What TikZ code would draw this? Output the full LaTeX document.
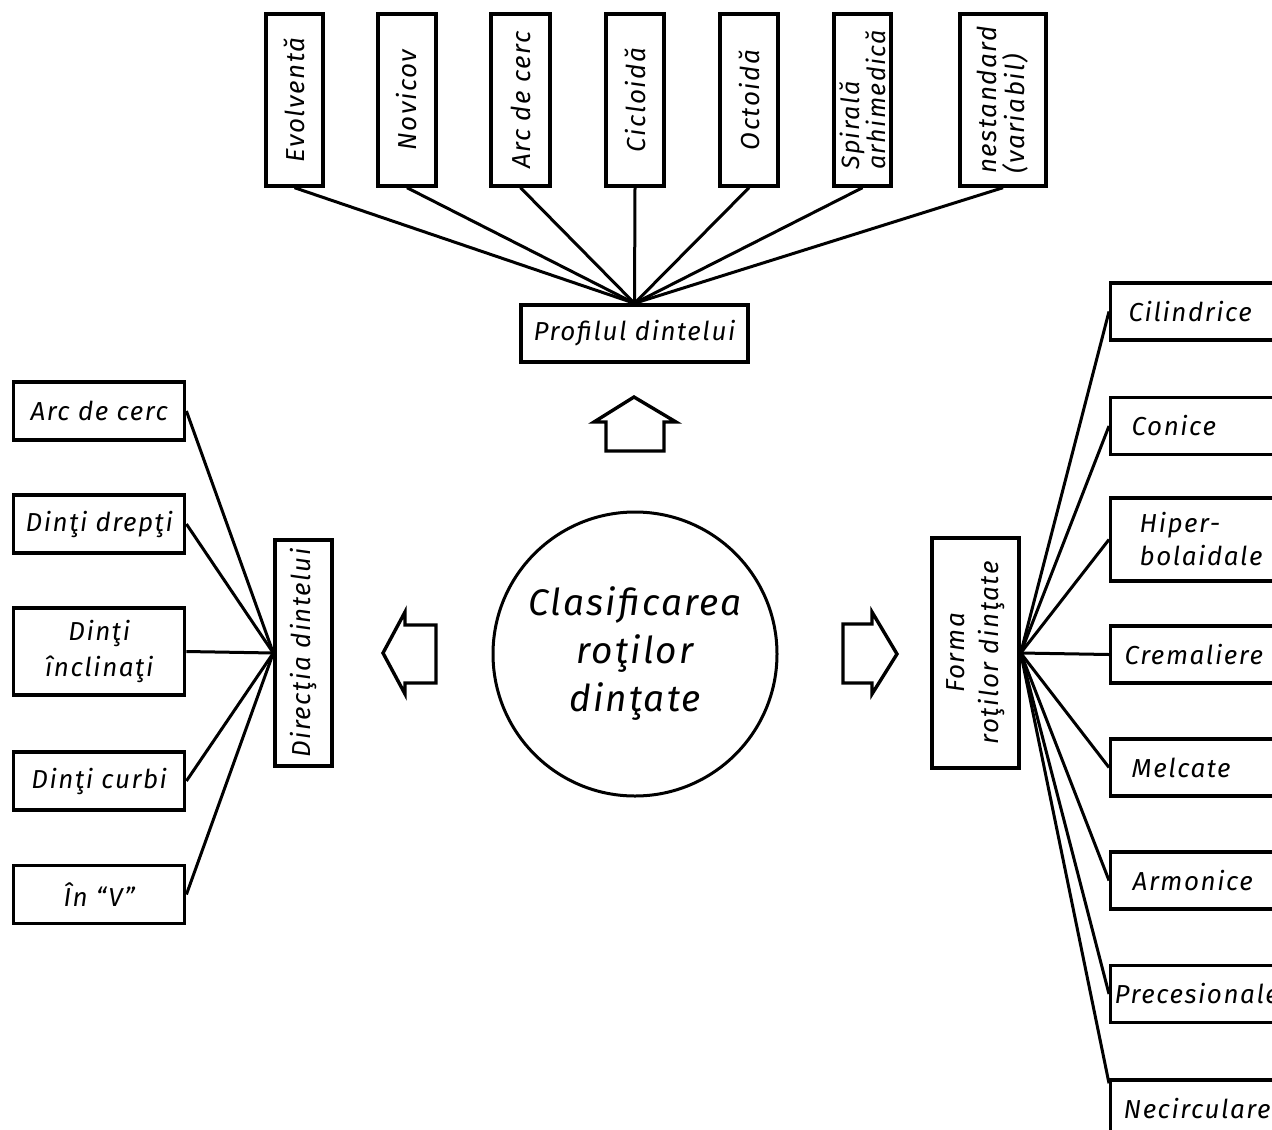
\documentclass[tikz,border=0pt]{standalone}
\usepackage{fontspec}
\setmainfont{Fira Sans}[LetterSpace=6]
\begin{document}
\begin{tikzpicture}[x=1pt,y=-1pt,
  box/.style={draw, line width=3.4pt, inner sep=2pt, font=\fontsize{26}{30}\selectfont\itshape},
  vbox/.style={box, rotate=90, minimum width=172pt, align=left, font=\fontsize{26}{28}\selectfont\itshape},
  lb/.style={box, anchor=west, minimum width=171pt, minimum height=58pt, align=center, font=\fontsize{26}{36}\selectfont\itshape},
  rb/.style={box, anchor=west, minimum height=57pt, text width=190pt, align=left, font=\fontsize{26}{33}\selectfont\itshape},
  conn/.style={line width=3pt},
  fat/.style={line width=3.4pt, line join=miter}]
\fill[white] (0,0) rectangle (1272,1130);
\clip (0,0) rectangle (1272,1130);
% top
\node[vbox, minimum height=57pt] (t1) at (294.5,100) {Evolventă};
\node[vbox, minimum height=58pt] (t2) at (407,100) {Novicov};
\node[vbox, minimum height=59pt] (t3) at (520.5,100) {Arc de cerc};
\node[vbox, minimum height=58pt] (t4) at (635,100) {Cicloidă};
\node[vbox, minimum height=58pt] (t5) at (749,100) {Octoidă};
\node[vbox, minimum height=57pt, inner ysep=0pt, font=\fontsize{25}{25}\selectfont\itshape] (t6) at (862.5,100) {Spirală\\arhimedică};
\node[vbox, minimum height=86pt] (t7) at (1003,100) {nestandard\\(variabil)};
\node[box, minimum width=227pt, minimum height=57pt] (prof) at (634.5,333.5) {Profilul dintelui};
\foreach \n in {t1,t2,t3,t4,t5,t6,t7} \draw[conn] (\n.west) -- (prof.north);
% centre
\node[draw, circle, line width=3pt, minimum size=284pt, inner sep=0pt, align=center,
  font=\fontsize{37}{48}\selectfont\itshape] (c) at (635,654) {Clasificarea\\roţilor\\dinţate};
% arrows
\draw[fat] (606,451) -- (606,422) -- (594,422) -- (634,397) -- (676,422) -- (664,422) -- (664,451) -- cycle;
\draw[fat] (436,625) -- (405,625) -- (405,612) -- (383,653) -- (405,694) -- (405,683) -- (436,683) -- cycle;
\draw[fat] (843,624) -- (872,624) -- (872,612) -- (897,654) -- (872,694) -- (872,683) -- (843,683) -- cycle;
% left
\node[vbox, minimum width=226pt, minimum height=57pt] (dir) at (303.5,653) {Direcţia dintelui};
\node[lb] (l1) at (12,411) {Arc de cerc};
\node[lb] (l2) at (12,524) {Dinţi drepţi};
\node[lb, minimum height=87pt] (l3) at (12,651.5) {Dinţi\\înclinaţi};
\node[lb] (l4) at (12,781) {Dinţi curbi};
\node[lb] (l5) at (12,894.5) {În “V”};
\foreach \n in {l1,l2,l3,l4,l5} \draw[conn] (\n.east) -- (dir.north);
% right
\node[vbox, minimum width=230pt, minimum height=87pt, align=center, font=\fontsize{26}{34}\selectfont\itshape] (forma) at (975.5,653) {Forma\\roţilor dinţate};
\node[rb, inner xsep=18pt] (r1) at (1109,311.5) {Cilindrice};
\node[rb, inner xsep=21pt] (r2) at (1109,426) {Conice};
\node[rb, inner xsep=29pt, minimum height=83pt] (r3) at (1109,539.5) {Hiper-\\bolaidale};
\node[rb, inner xsep=14pt] (r4) at (1109,654.5) {Cremaliere};
\node[rb, inner xsep=21pt] (r5) at (1109,767.5) {Melcate};
\node[rb, inner xsep=22pt] (r6) at (1109,880.5) {Armonice};
\node[rb, inner xsep=4pt] (r7) at (1109,994) {Precesionale};
\node[rb, inner xsep=13pt] (r8) at (1109,1108.5) {Necirculare};
\foreach \n in {r1,r2,r3,r4,r5,r6,r7} \draw[conn] (forma.south) -- (\n.west);
\draw[conn] (forma.south) -- ([yshift=-5pt]r8.north west);
\end{tikzpicture}
\end{document}
